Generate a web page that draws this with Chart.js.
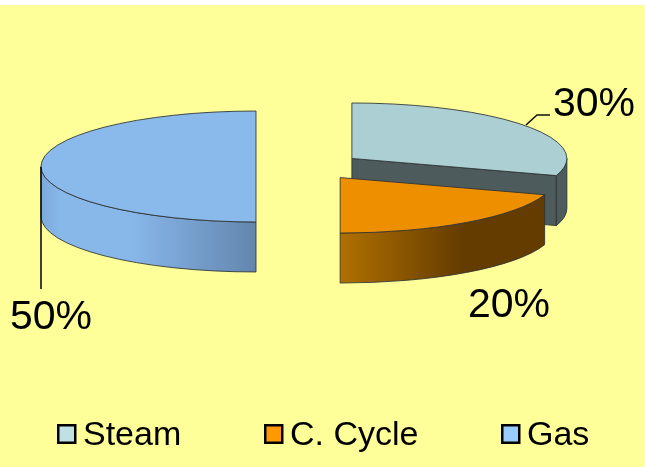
<!DOCTYPE html>
<html>
<head>
  <meta charset="UTF-8" />
  <title>Generation mix</title>
  <script src="https://cdn.jsdelivr.net/npm/chart.js"></script>
  <style>
    body { margin: 0; background-color: #fff; }
    canvas { display: block; }
  </style>
</head>
<body>
  <canvas id="pieChart" width="645" height="467"></canvas>

  <script>
    const categories = ['Steam', 'C. Cycle', 'Gas'];
    const shares = [30, 20, 50];

    const topColors = ['#ABCFD3', '#EE8F00', '#8AB9EC'];
    const legendColors = ['#BFE1E4', '#FF9900', '#99CCFF'];
    // side wall colour stops, left to right: [position 0..1, colour]
    const wallStops = [
      [[0, '#4D5B5D'], [1, '#4D5B5D']],
      [[0, '#B07000'], [0.6, '#643C00'], [1, '#643C00']],
      [[0, '#7DAADD'], [0.09, '#88B7EA'], [0.42, '#88B7EA'], [1, '#6386AE']]
    ];

    const SQUASH = 0.258;    // vertical flattening of the pie
    const DEPTH = 50;        // height of the side wall
    const EXPLODE = 53;      // how far slices are pulled from the centre
    const OUTLINE = 'rgba(45,50,50,0.85)';

    const arcGeom = (arc) => ({
      x: arc.x,
      y: arc.y,
      r: arc.outerRadius,
      ry: arc.outerRadius * SQUASH,
      start: arc.startAngle,
      end: arc.endAngle
    });

    function wallPath(ctx, g, a0, a1) {
      ctx.beginPath();
      ctx.ellipse(g.x, g.y, g.r, g.ry, 0, a0, a1);
      ctx.lineTo(g.x + Math.cos(a1) * g.r, g.y + Math.sin(a1) * g.ry + DEPTH);
      ctx.ellipse(g.x, g.y + DEPTH, g.r, g.ry, 0, a1, a0, true);
      ctx.closePath();
    }

    function cutFace(ctx, g, angle) {
      ctx.beginPath();
      ctx.moveTo(g.x, g.y);
      ctx.lineTo(g.x + Math.cos(angle) * g.r, g.y + Math.sin(angle) * g.ry);
      ctx.lineTo(g.x + Math.cos(angle) * g.r, g.y + Math.sin(angle) * g.ry + DEPTH);
      ctx.lineTo(g.x, g.y + DEPTH);
      ctx.closePath();
    }

    function wallFill(ctx, g, i, a0, a1) {
      const xs = [a0, a1].map(a => g.x + Math.cos(a) * g.r);
      const grad = ctx.createLinearGradient(Math.min(...xs), 0, Math.max(...xs), 0);
      wallStops[i].forEach(s => grad.addColorStop(s[0], s[1]));
      return grad;
    }

    const pie3d = {
      id: 'pie3d',
      beforeDraw(chart) {
        const { ctx, width, height } = chart;
        ctx.save();
        ctx.fillStyle = '#FFFF99';
        ctx.fillRect(0, 5, width, height - 5);
        ctx.restore();
      },
      afterDatasetsUpdate(chart) {
        // pull each slice out along its middle angle
        chart.getDatasetMeta(0).data.forEach(arc => {
          const mid = (arc.startAngle + arc.endAngle) / 2;
          arc.x += Math.cos(mid) * EXPLODE;
          arc.y += Math.sin(mid) * EXPLODE * SQUASH;
        });
      },
      beforeDatasetDraw(chart, args) {
        const ctx = chart.ctx;
        ctx.save();
        ctx.lineWidth = 1;
        ctx.strokeStyle = OUTLINE;
        args.meta.data.forEach((arc, i) => {
          const g = arcGeom(arc);
          // only the part of the rim facing the viewer has a visible wall
          const a0 = Math.max(g.start, 0);
          const a1 = Math.min(g.end, Math.PI);
          if (Math.cos(g.end) > 0.001) {
            cutFace(ctx, g, g.end);
            ctx.fillStyle = wallStops[i][0][1];
            ctx.fill();
            ctx.stroke();
          }
          if (a1 > a0) {
            wallPath(ctx, g, a0, a1);
            ctx.fillStyle = wallFill(ctx, g, i, a0, a1);
            ctx.fill();
            ctx.stroke();
          }
        });
        ctx.restore();

        // the library draws the top faces as flattened circles
        args.meta.data.forEach(arc => { arc.$cy = arc.y; });
        ctx.save();
        ctx.scale(1, SQUASH);
        args.meta.data.forEach(arc => { arc.y = arc.$cy / SQUASH; });
      },
      afterDatasetDraw(chart, args) {
        const ctx = chart.ctx;
        ctx.restore();
        args.meta.data.forEach(arc => { arc.y = arc.$cy; });

        ctx.save();
        ctx.lineWidth = 1;
        ctx.strokeStyle = OUTLINE;
        args.meta.data.forEach(arc => {
          const g = arcGeom(arc);
          ctx.beginPath();
          ctx.moveTo(g.x, g.y);
          ctx.ellipse(g.x, g.y, g.r, g.ry, 0, g.start, g.end);
          ctx.closePath();
          ctx.stroke();
        });
        ctx.restore();
      },
      afterDraw(chart) {
        const ctx = chart.ctx;
        ctx.save();

        // leader lines
        ctx.strokeStyle = '#111';
        ctx.lineWidth = 1.6;
        ctx.beginPath();
        ctx.moveTo(526, 125);
        ctx.lineTo(537, 115);
        ctx.lineTo(550, 115);
        ctx.moveTo(41, 167);
        ctx.lineTo(41, 289);
        ctx.stroke();

        // value labels
        const labelSpots = [[553, 116], [468, 317], [10, 329]];
        ctx.fillStyle = '#000';
        ctx.font = '41px "Liberation Sans", Arial, sans-serif';
        ctx.textBaseline = 'alphabetic';
        shares.forEach((v, i) => {
          ctx.fillText(v + '%', labelSpots[i][0], labelSpots[i][1]);
        });

        // legend
        const legendX = [57, 264, 501];
        ctx.font = '34px "Liberation Sans", Arial, sans-serif';
        categories.forEach((name, i) => {
          ctx.fillStyle = legendColors[i];
          ctx.fillRect(legendX[i] + 1.25, 425.25, 17, 17.5);
          ctx.strokeStyle = '#000';
          ctx.lineWidth = 2.5;
          ctx.strokeRect(legendX[i] + 1.25, 425.25, 17, 17.5);
          ctx.fillStyle = '#000';
          ctx.fillText(name, legendX[i] + 26, 445);
        });
        ctx.restore();
      }
    };

    new Chart(document.getElementById('pieChart'), {
      type: 'pie',
      data: {
        labels: categories,
        datasets: [{
          data: shares,
          backgroundColor: topColors,
          borderWidth: 0
        }]
      },
      options: {
        responsive: false,
        animation: false,
        events: [],
        radius: 215,
        layout: { padding: { right: 27, bottom: 134 } },
        plugins: {
          legend: { display: false },
          tooltip: { enabled: false }
        }
      },
      plugins: [pie3d]
    });
  </script>
</body>
</html>
